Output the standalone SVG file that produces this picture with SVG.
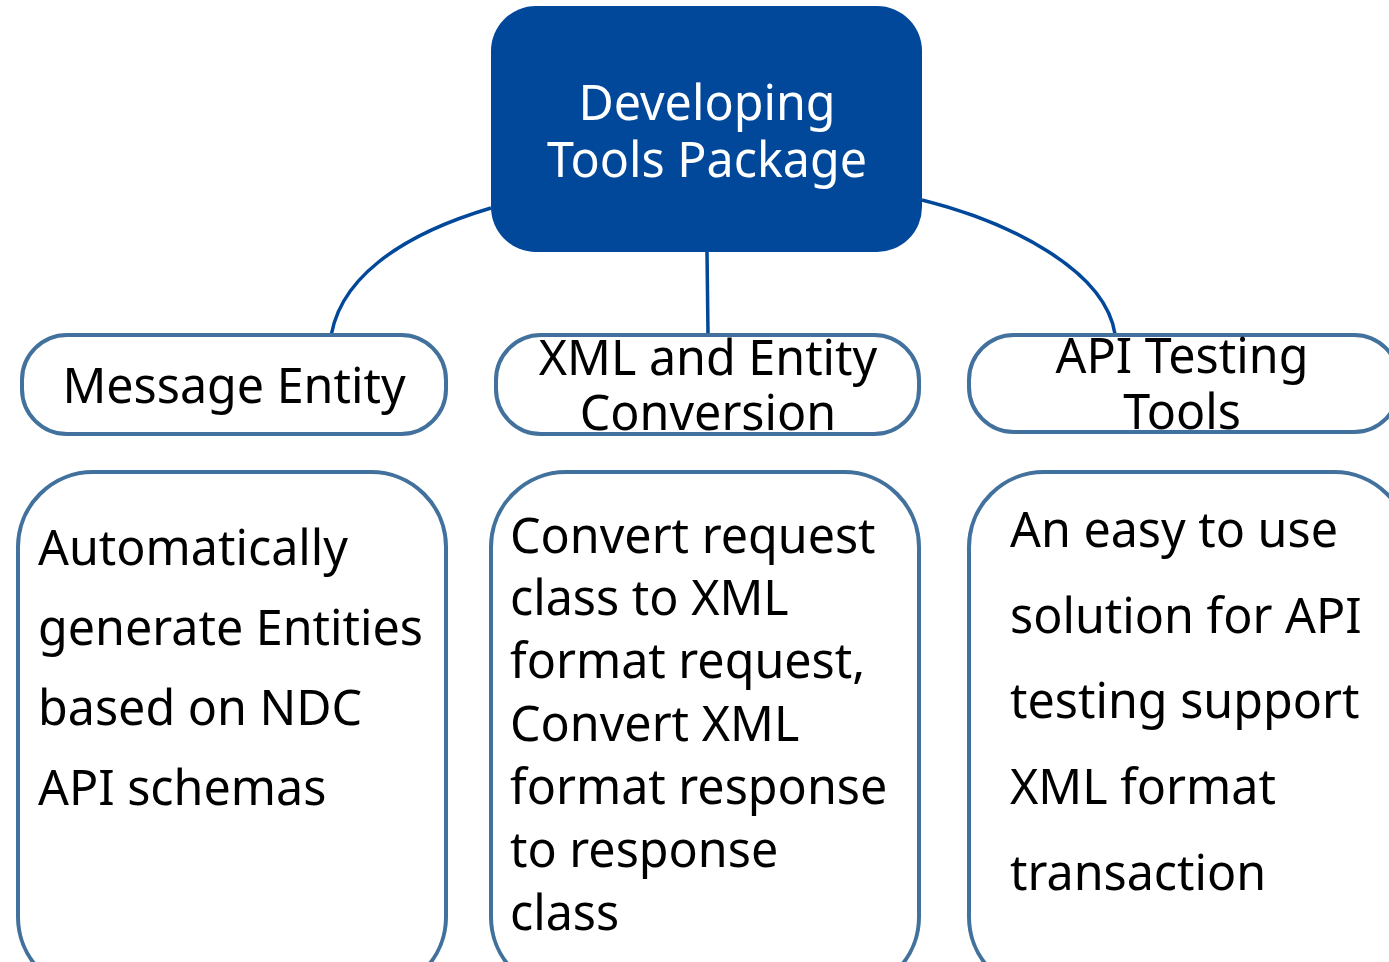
<svg xmlns="http://www.w3.org/2000/svg" width="1389" height="962" viewBox="0 0 1389 962">
<style>
.t{font-family:"Noto Sans","Open Sans","DejaVu Sans",sans-serif;font-size:48.4px;fill:#000}
.w{fill:#fff;text-anchor:middle}
.c{text-anchor:middle}
.box{fill:#fff;stroke:#41719C;stroke-width:4}
.conn{fill:none;stroke:#02489A;stroke-width:3.5}
</style>
<rect width="1389" height="962" fill="#fff"/>
<g id="connectors">
<path class="conn" d="M491,208 C400,235 335,280 330,345"/>
<path class="conn" d="M707,252 L708,334"/>
<path class="conn" d="M922,200 C1010,222 1105,270 1115,334"/>
</g>
<g id="root">
<rect x="491" y="6" width="431" height="246" rx="45" fill="#02489A"/>
<text class="t w" x="707" y="120">Developing</text>
<text class="t w" x="707" y="177">Tools Package</text>
</g>
<g id="message-entity">
<rect class="box" x="22" y="335" width="424" height="99" rx="45"/>
<text class="t c" x="234" y="403">Message Entity</text>
</g>
<g id="xml-entity-conversion">
<rect class="box" x="496" y="335" width="423" height="99" rx="45"/>
<text class="t c" x="708" y="375">XML and Entity</text>
<text class="t c" x="708" y="430">Conversion</text>
</g>
<g id="api-testing-tools">
<rect class="box" x="969" y="335" width="430" height="97" rx="45"/>
<text class="t c" x="1182" y="373">API Testing</text>
<text class="t c" x="1182" y="429">Tools</text>
</g>
<g id="desc-message-entity">
<rect class="box" x="18" y="472" width="428" height="520" rx="75"/>
<text class="t" x="38" y="565">Automatically</text>
<text class="t" x="38" y="645">generate Entities</text>
<text class="t" x="38" y="725">based on NDC</text>
<text class="t" x="38" y="805">API schemas</text>
</g>
<g id="desc-xml-entity">
<rect class="box" x="491" y="472" width="428" height="520" rx="75"/>
<text class="t" x="510" y="553">Convert request</text>
<text class="t" x="510" y="615">class to XML</text>
<text class="t" x="510" y="678">format request,</text>
<text class="t" x="510" y="741">Convert XML</text>
<text class="t" x="510" y="804">format response</text>
<text class="t" x="510" y="867">to response</text>
<text class="t" x="510" y="930">class</text>
</g>
<g id="desc-api-testing">
<rect class="box" x="969" y="472" width="440" height="520" rx="75"/>
<text class="t" x="1010" y="547">An easy to use</text>
<text class="t" x="1010" y="633">solution for API</text>
<text class="t" x="1010" y="718">testing support</text>
<text class="t" x="1010" y="804">XML format</text>
<text class="t" x="1010" y="890">transaction</text>
</g>
</svg>
